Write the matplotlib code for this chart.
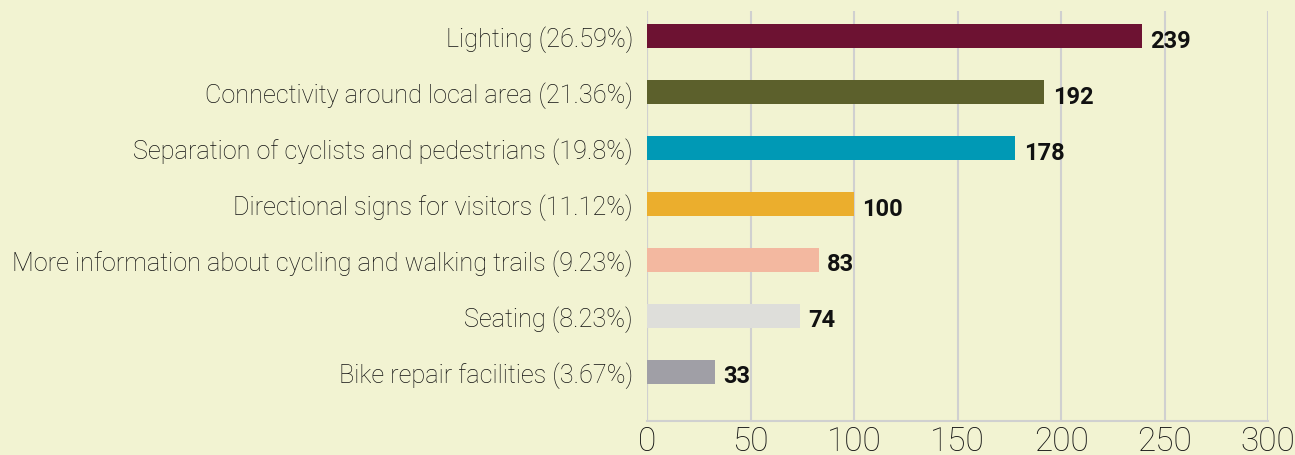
import matplotlib
matplotlib.use("Agg")
import matplotlib.pyplot as plt

categories = [
    "Lighting (26.59%)",
    "Connectivity around local area (21.36%)",
    "Separation of cyclists and pedestrians (19.8%)",
    "Directional signs for visitors (11.12%)",
    "More information about cycling and walking trails (9.23%)",
    "Seating (8.23%)",
    "Bike repair facilities (3.67%)",
]
values = [239, 192, 178, 100, 83, 74, 33]
colors = ["#6D1232", "#5C602C", "#0099B5", "#EBAE2D", "#F3B8A0", "#DEDEDA", "#A09FA6"]
xticks = [0, 50, 100, 150, 200, 250, 300]

bg = "#F2F3D2"
fig = plt.figure(figsize=(12.95, 4.56), dpi=100, facecolor=bg)
ax = fig.add_axes([647/1295, 1-422/456, (1268-647)/1295, (422-12)/456])
ax.set_facecolor(bg)

ypos = list(range(len(categories)))
ax.barh(ypos, values, height=0.43, color=colors, zorder=3)
ax.set_ylim(6.875, -0.45)
ax.set_xlim(0, 300)
ax.set_xticks(xticks)
ax.set_xticklabels([str(t) for t in xticks], fontsize=24, family="Roboto",
                   fontweight="light", color="#111111")
ax.set_yticks(ypos)
ax.set_yticklabels(categories, fontsize=18.2, family="Roboto", fontweight="light",
                   color="#111111")
ax.tick_params(axis="both", length=0)
ax.tick_params(axis="y", pad=10)
ax.tick_params(axis="x", pad=3)
for s in ["top", "right", "left"]:
    ax.spines[s].set_visible(False)
ax.spines["bottom"].set_color("#D0D0D0")
ax.spines["bottom"].set_linewidth(1.5)
ax.xaxis.grid(True, color="#D0D0D0", linewidth=1.5, zorder=0)
ax.axvline(0, color="#D0D0D0", linewidth=1.5, zorder=1)

for y, v in zip(ypos, values):
    ax.text(v + 4, y + 0.07, str(v), va="center", ha="left", fontsize=17,
            fontweight="bold", family="Roboto", color="#111111")

fig.savefig("out.png", dpi=100, facecolor=bg)
